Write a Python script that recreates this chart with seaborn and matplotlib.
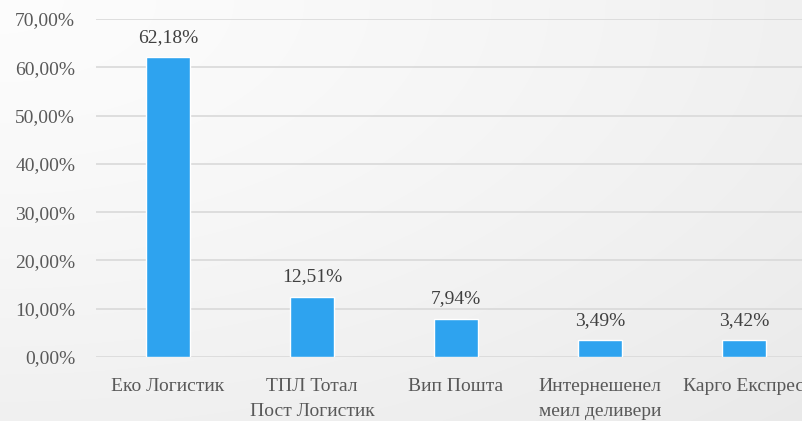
import numpy as np
import pandas as pd
import matplotlib
matplotlib.use("Agg")
import matplotlib.pyplot as plt
import seaborn as sns

categories = ["Еко Логистик", "ТПЛ Тотал\nПост Логистик", "Вип Пошта",
              "Интернешенел\nмеил деливери", "Карго Експрес"]
values = [62.18, 12.51, 7.94, 3.49, 3.42]
yticks = [0, 10, 20, 30, 40, 50, 60, 70]

sns.set_theme(style="white")
plt.rcParams['font.family'] = ['Liberation Serif', 'DejaVu Serif']
TXT = "#595959"
FS = 14

fig = plt.figure(figsize=(8.02, 4.21), dpi=100)

# gradient background
bg = fig.add_axes([0, 0, 1, 1], zorder=0)
h, w = 421, 802
yy, xx = np.mgrid[0:h, 0:w]
d = np.sqrt((xx / w) ** 2 + (yy / h) ** 2) / np.sqrt(2)
g = 0.99 - 0.075 * d ** 1.3
img = np.dstack([g, g, g])
bg.imshow(img, aspect="auto", extent=[0, 1, 0, 1])
bg.set_axis_off()

left = 96 / 802
right = 816 / 802
bottom = (421 - 357) / 421
top = (421 - 19) / 421
ax = fig.add_axes([left, bottom, right - left, top - bottom], zorder=1)
ax.patch.set_alpha(0)

df = pd.DataFrame({"cat": categories, "val": values})
sns.barplot(data=df, x="cat", y="val", color="#2EA3EF", saturation=1,
            width=0.31, ax=ax, zorder=3)

ax.set_ylim(0, 70)
ax.set_xlim(-0.5, 4.5)
ax.set_yticks(yticks)
ax.set_yticklabels([f"{v:.2f}%".replace(".", ",") for v in yticks],
                   fontsize=FS, color=TXT)
ax.tick_params(axis="x", labelsize=FS, colors=TXT, length=0, pad=15)
ax.tick_params(axis="y", length=0, pad=15)
for lab in ax.get_xticklabels():
    lab.set_color(TXT)
    lab.set_linespacing(1.6)
ax.yaxis.grid(True, color="#d9d9d9", linewidth=1.2)
ax.set_axisbelow(True)
for s in ax.spines.values():
    s.set_visible(False)
ax.set_xlabel("")
ax.set_ylabel("")

for c in ax.containers:
    ax.bar_label(c, labels=[f"{v:.2f}%".replace(".", ",") for v in values],
                 padding=8, fontsize=FS, color="#404040")

fig.savefig("out.png", dpi=100)
